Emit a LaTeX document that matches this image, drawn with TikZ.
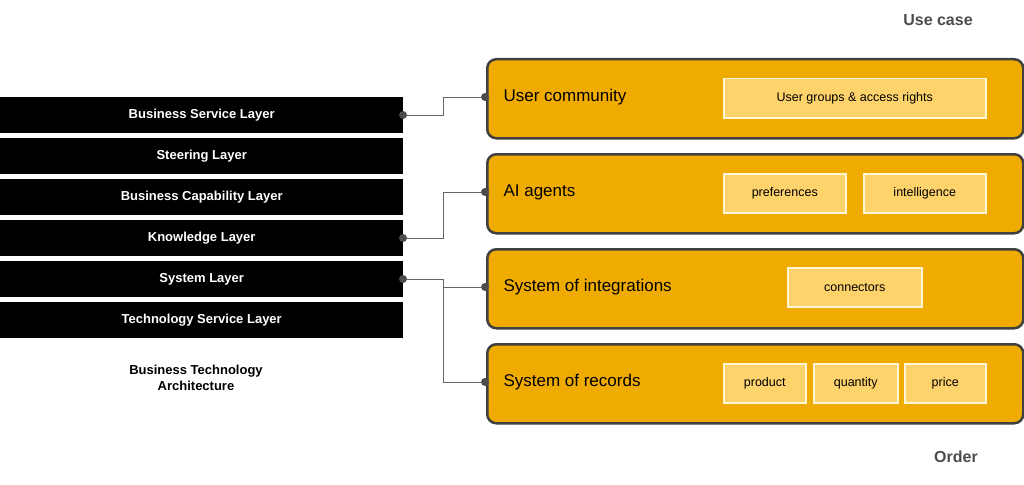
\documentclass[tikz,border=0pt]{standalone}
\usepackage{fontspec}
\setmainfont{Liberation Sans}
\begin{document}
\begin{tikzpicture}[x=1pt,y=-1pt,
 bar/.style={fill=black,text=white,font=\fontsize{13}{15}\selectfont\bfseries,minimum width=403pt,minimum height=36pt,inner sep=0,anchor=north west},
 big/.style={draw=black!75,line width=2.5pt,fill=orange!0!yellow!0,fill={rgb,255:red,240;green,171;blue,0},rounded corners=9pt,minimum width=536pt,minimum height=79pt,anchor=north west},
 ttl/.style={font=\fontsize{17}{20}\selectfont,anchor=west},
 sub/.style={draw={rgb,255:red,255;green,245;blue,215},line width=1.5pt,fill={rgb,255:red,255;green,211;blue,107},minimum height=39pt,inner sep=0,anchor=north west,font=\fontsize{12.5}{15}\selectfont},
 dot/.style={circle,fill=black!70,inner sep=0,minimum size=8pt},
 wire/.style={draw=black!60,line width=0.8pt}]
\useasboundingbox (0,0) rectangle (1024,484);
\node[bar] (b1) at (0,97) {Business Service Layer};
\node[bar] (b2) at (0,138) {Steering Layer};
\node[bar] (b3) at (0,179) {Business Capability Layer};
\node[bar] (b4) at (0,220) {Knowledge Layer};
\node[bar] (b5) at (0,261) {System Layer};
\node[bar] (b6) at (0,302) {Technology Service Layer};
\node[font=\fontsize{13}{16}\selectfont\bfseries,align=center] (cap) at (196,378) {Business Technology\\Architecture};
\node[big] (r1) at (486,58) {};
\node[big] (r2) at (486,153) {};
\node[big] (r3) at (486,248) {};
\node[big] (r4) at (486,343) {};
\node[ttl] (t1) at (500,97) {User community};
\node[ttl] (t2) at (500,192) {AI agents};
\node[ttl] (t3) at (500,287) {System of integrations};
\node[ttl] (t4) at (500,382) {System of records};
\node[sub,minimum width=262pt] (s1) at (723,78) {User groups \& access rights};
\node[sub,minimum width=122pt] (s2) at (723,173) {preferences};
\node[sub,minimum width=122pt] (s3) at (863,173) {intelligence};
\node[sub,minimum width=134pt] (s4) at (787,267) {connectors};
\node[sub,minimum width=82pt] (s5) at (723,363) {product};
\node[sub,minimum width=84pt] (s6) at (813,363) {quantity};
\node[sub,minimum width=81pt] (s7) at (904,363) {price};
\node[font=\fontsize{16}{19}\selectfont\bfseries,text=black!70] (uc) at (938,20) {Use case};
\node[font=\fontsize{16}{19}\selectfont\bfseries,text=black!70] (od) at (956,457) {Order};
\node[dot] (d1) at (403,115) {};
\node[dot] (d2) at (403,238) {};
\node[dot] (d3) at (403,279) {};
\node[dot] (e1) at (485,97) {};
\node[dot] (e2) at (485,192) {};
\node[dot] (e3) at (485,287) {};
\node[dot] (e4) at (485,382) {};
\coordinate (j) at (443,287);
\draw[wire] (d1) -| (443,97) -- (e1);
\draw[wire] (d2) -| (443,192) -- (e2);
\draw[wire] (d3) -| (j) -- (e3);
\draw[wire] (j) |- (e4);
\end{tikzpicture}
\end{document}
